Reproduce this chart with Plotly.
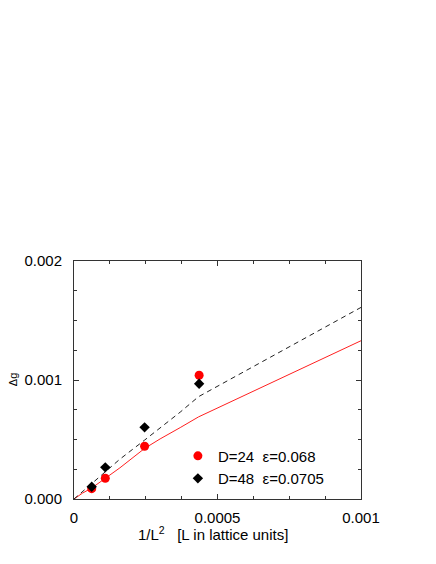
import plotly.graph_objects as go

# data
inv_L2_pts = [0.0000617, 0.000109, 0.000246, 0.000436]
dg_D24 = [0.000087, 0.000174, 0.000443, 0.00104]
dg_D48 = [0.000103, 0.000266, 0.000602, 0.000969]

curve_x = [0, 0.00003, 0.0000617, 0.000109, 0.00016, 0.000246, 0.0003, 0.00037, 0.000434, 0.001]
curve_D24 = [0, 0.00005, 0.000092, 0.000172, 0.000262, 0.000425, 0.000505, 0.0006, 0.00069, 0.00133]
curve_D48 = [0, 0.000062, 0.000125, 0.000228, 0.000335, 0.000495, 0.000595, 0.00073, 0.00086, 0.00161]

x_tickvals = [0, 0.0005, 0.001]
x_ticktext = ["0", "0.0005", "0.001"]
y_tickvals = [0, 0.001, 0.002]
y_ticktext = ["0.000", "0.001", "0.002"]

labels = ["D=24\u00a0\u00a0ε=0.068", "D=48\u00a0\u00a0ε=0.0705"]

FONT = "Liberation Sans, Arial, sans-serif"

fig = go.Figure()
fig.add_trace(go.Scatter(x=curve_x, y=curve_D24, mode="lines",
                         line=dict(color="#ff2020", width=1), showlegend=False))
fig.add_trace(go.Scatter(x=curve_x, y=curve_D48, mode="lines",
                         line=dict(color="#222222", width=1, dash="5px,4px"), showlegend=False))
fig.add_trace(go.Scatter(x=inv_L2_pts, y=dg_D24, mode="markers", name=labels[0],
                         marker=dict(symbol="circle", size=9, color="#ff0000")))
fig.add_trace(go.Scatter(x=inv_L2_pts, y=dg_D48, mode="markers", name=labels[1],
                         marker=dict(symbol="diamond", size=8, color="#000000")))

axis_common = dict(showline=True, linecolor="#333333", linewidth=1, mirror="ticks",
                   ticks="inside", ticklen=5, tickcolor="#333333", showgrid=False,
                   zeroline=False, tickfont=dict(family=FONT, size=15, color="black"))

fig.update_xaxes(range=[0, 0.001], tickvals=x_tickvals, ticktext=x_ticktext,
                 minor=dict(dtick=0.000125, tick0=0, ticks="inside", ticklen=3, tickcolor="#333333"),
                 ticklabelstandoff=5, **axis_common)
fig.update_yaxes(range=[0, 0.002], tickvals=y_tickvals, ticktext=y_ticktext,
                 minor=dict(dtick=0.00025, tick0=0, ticks="inside", ticklen=3, tickcolor="#333333"),
                 ticklabelstandoff=8, **axis_common)

fig.add_annotation(text="1/L<sup>2</sup>\u00a0\u00a0\u00a0[L in lattice units]", xref="paper", yref="paper",
                   x=0.485, y=-0.147, xanchor="center", yanchor="middle", showarrow=False,
                   font=dict(family=FONT, size=15, color="black"))
fig.add_annotation(text="Δg", xref="paper", yref="paper", x=-0.212, y=0.5, textangle=-90,
                   xanchor="center", yanchor="middle", showarrow=False,
                   font=dict(family=FONT, size=11, color="black"))

fig.update_layout(
    width=436, height=564,
    margin=dict(l=66, r=83, t=253, b=73),
    paper_bgcolor="white", plot_bgcolor="white",
    font=dict(family=FONT, size=15, color="black"),
    legend=dict(x=0.362, y=0.134, xanchor="left", yanchor="middle",
                bgcolor="rgba(0,0,0,0)", borderwidth=0, itemwidth=30,
                font=dict(family=FONT, size=15, color="black")),
)

fig.write_html("out.html")
